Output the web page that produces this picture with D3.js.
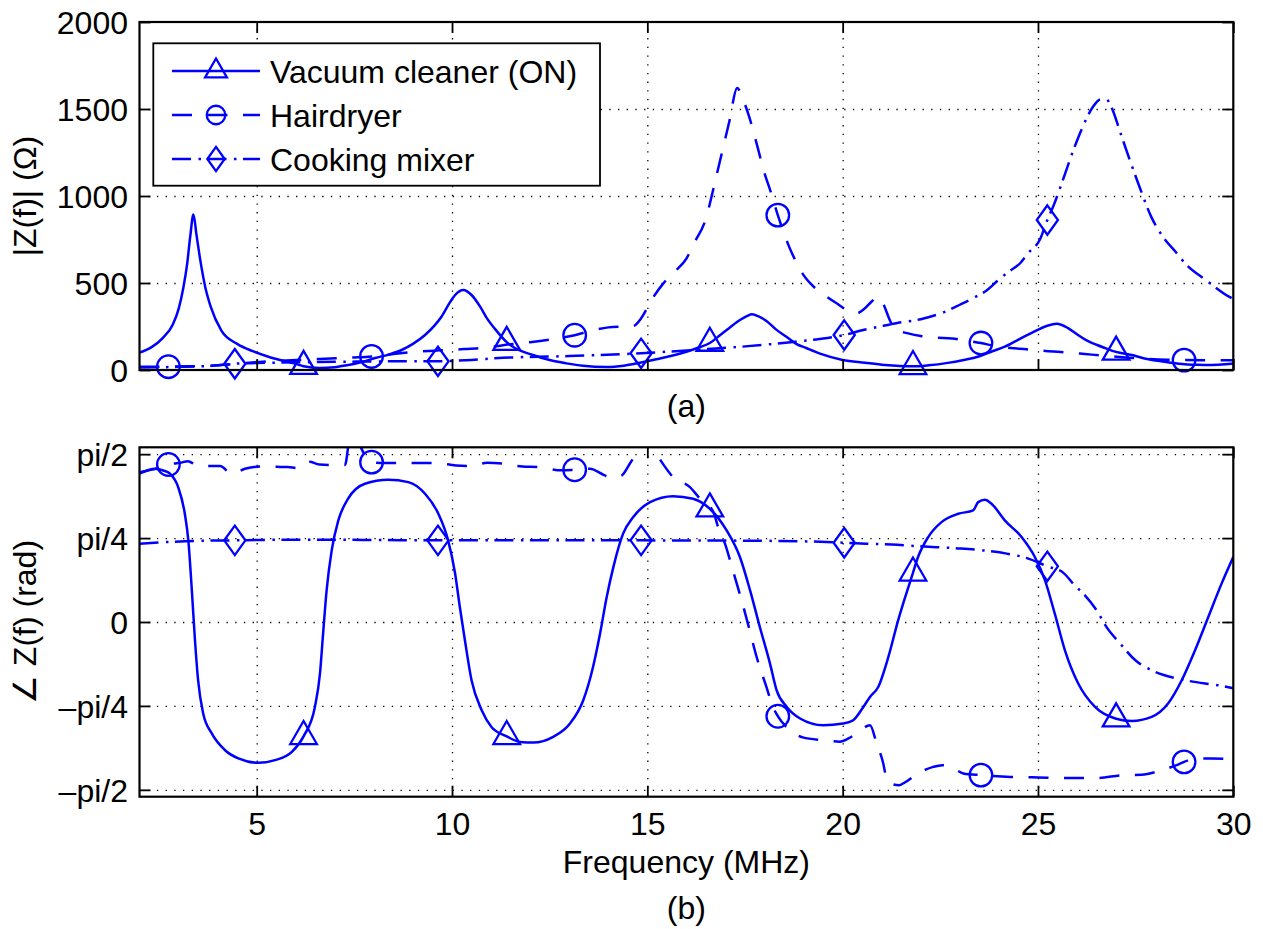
<!DOCTYPE html>
<html>
<head>
<meta charset="utf-8">
<script src="https://cdn.jsdelivr.net/npm/d3@7"></script>
<style>
  body { margin: 0; background: #fff; }
  text { font-family: "Liberation Sans", Arial, Helvetica, sans-serif; font-size: 32px; fill: #000; }
</style>
</head>
<body>
<svg id="chart" width="1263" height="929"></svg>
<script>
// ---- Impedance magnitude |Z(f)| in ohms, [frequency MHz, value] ----
const vacuumMag = [
  [2.0,100],[2.3,130],[2.6,185],[2.85,260],[3.0,350],[3.12,470],[3.22,610],[3.30,770],[3.38,893],
  [3.46,775],[3.55,640],[3.68,480],[3.82,365],[4.1,225],[4.5,150],[4.9,108],[5.3,76],[5.7,52],
  [6.0,35],[6.2,22],[6.6,12],[7.0,16],[7.34,29],[7.7,46],[8.03,69],[8.4,90],[8.71,115],[9.0,150],
  [9.31,201],[9.55,255],[9.73,306],[9.95,390],[10.08,431],[10.29,460],[10.5,431],[10.72,364],
  [10.9,295],[11.14,225],[11.4,160],[11.6,128],[12.07,86],[12.5,57],[12.93,38],[13.35,24],
  [13.96,17],[14.4,25],[14.81,42],[15.2,60],[15.6,80],[16.0,105],[16.3,128],[16.6,155],
  [16.86,200],[17.1,242],[17.37,287],[17.55,310],[17.68,320],[17.85,308],[18.05,282],[18.3,232],
  [18.56,191],[18.8,152],[19.08,125],[19.42,94],[20.0,58],[20.57,42],[21.08,29],[21.8,21],
  [22.2,27],[22.69,41],[23.1,58],[23.46,76],[23.8,105],[24.15,134],[24.5,175],[24.84,213],
  [25.22,253],[25.48,266],[25.77,241],[26.0,205],[26.21,175],[26.5,145],[26.72,126],[27.0,104],
  [27.4,86],[27.7,68],[28.07,53],[28.4,42],[28.76,33],[29.1,30],[29.44,29],[29.8,33],[30.0,38]
];
const hairdryerMag = [
  [2.0,18],[2.74,19],[3.3,21],[3.9,26],[4.3,32],[4.8,42],[5.5,52],[6.2,60],[6.9,66],[7.5,72],
  [7.94,78],[8.5,92],[9.1,105],[9.7,113],[10.3,120],[10.9,130],[11.5,148],[12.0,160],[12.5,175],
  [13.14,200],[13.6,228],[14.0,245],[14.35,250],[14.63,252],[14.85,300],[15.1,400],[15.4,495],
  [15.7,565],[16.0,640],[16.2,730],[16.5,870],[16.7,1050],[16.9,1240],[17.1,1430],[17.3,1620],
  [17.45,1555],[17.6,1460],[17.8,1300],[18.0,1130],[18.15,1030],[18.34,890],[18.6,725],
  [18.8,625],[19.0,545],[19.3,470],[19.6,420],[19.9,375],[20.15,338],[20.36,326],[20.55,350],
  [20.75,395],[20.9,420],[21.05,375],[21.2,290],[21.35,232],[21.65,212],[22.0,195],[22.4,186],
  [22.8,181],[23.2,168],[23.54,155],[23.9,138],[24.3,127],[24.8,117],[25.2,109],[25.8,100],
  [26.2,92],[26.8,80],[27.3,71],[27.8,64],[28.3,59],[28.74,57],[29.3,56],[30.0,56]
];
const mixerMag = [
  [2.0,14],[3.0,18],[3.8,23],[4.44,36],[5.0,40],[6.0,44],[7.0,47],[8.0,49],[9.0,51],[9.64,50],
  [10.5,58],[11.3,70],[12.2,76],[13.0,80],[13.8,86],[14.84,96],[15.5,105],[16.5,120],[17.3,132],
  [18.0,145],[18.8,163],[19.4,178],[20.04,201],[20.5,228],[21.0,252],[21.4,270],[22.0,292],
  [22.6,333],[23.0,375],[23.4,420],[23.7,460],[23.95,510],[24.25,565],[24.55,615],[24.75,672],
  [25.05,750],[25.24,862],[25.4,945],[25.65,1100],[25.9,1260],[26.15,1400],[26.4,1510],
  [26.6,1555],[26.75,1555],[26.9,1500],[27.1,1370],[27.35,1207],[27.6,1052],[27.9,880],
  [28.2,765],[28.5,685],[28.8,605],[29.3,517],[29.9,420],[30.0,408]
];

// ---- Impedance phase angle in radians, [frequency MHz, value] ----
const vacuumPhase = [
  [2.0,1.388],[2.4,1.434],[2.61,1.418],[2.78,1.388],[2.99,1.262],[3.16,1.013],[3.25,0.764],
  [3.34,0.296],[3.42,-0.171],[3.50,-0.545],[3.63,-0.856],[3.85,-1.043],[4.19,-1.200],[4.53,-1.277],
  [5.04,-1.318],[5.47,-1.293],[5.90,-1.216],[6.2,-1.07],[6.49,-0.795],[6.62,-0.482],[6.70,-0.108],
  [6.79,0.296],[6.92,0.670],[7.09,0.951],[7.34,1.154],[7.77,1.294],[8.37,1.331],[8.88,1.309],
  [9.31,1.200],[9.65,1.013],[9.90,0.764],[10.08,0.452],[10.20,0.140],[10.33,-0.171],[10.50,-0.545],
  [10.76,-0.826],[11.01,-0.982],[11.4,-1.07],[11.74,-1.122],[12.08,-1.128],[12.59,-1.075],
  [13.02,-0.950],[13.36,-0.732],[13.61,-0.421],[13.79,-0.108],[13.96,0.234],[14.13,0.514],
  [14.38,0.827],[14.64,0.982],[15.07,1.122],[15.66,1.178],[16.17,1.154],[16.6,1.060],[17.03,0.857],
  [17.37,0.608],[17.63,0.296],[17.88,-0.047],[18.14,-0.389],[18.31,-0.639],[18.57,-0.795],
  [18.91,-0.903],[19.50,-0.966],[20.01,-0.950],[20.27,-0.919],[20.53,-0.795],[20.70,-0.701],
  [20.91,-0.608],[21.17,-0.327],[21.42,0.016],[21.8,0.46],[21.93,0.608],[22.19,0.795],[22.53,0.935],
  [22.96,1.013],[23.34,1.044],[23.47,1.122],[23.64,1.144],[23.81,1.107],[24.15,0.951],[24.58,0.795],
  [24.92,0.608],[25.18,0.390],[25.43,0.078],[25.69,-0.265],[26.03,-0.576],[26.46,-0.795],
  [27.0,-0.905],[27.40,-0.926],[27.91,-0.888],[28.33,-0.763],[28.68,-0.545],[29.02,-0.265],
  [29.36,0.047],[29.70,0.359],[30.0,0.608]
];
const hairdryerPhase = [
  [2.0,1.402],[2.22,1.418],[2.52,1.443],[2.74,1.474],[3.04,1.49],[3.24,1.505],[3.45,1.47],
  [3.73,1.46],[4.06,1.46],[4.36,1.388],[4.70,1.434],[5.1,1.456],[5.5,1.452],[5.8,1.45],[6.05,1.44],
  [6.35,1.50],[6.6,1.475],[6.92,1.47],[7.26,1.47],[7.40,1.75],[7.52,1.72],[7.85,1.52],[7.94,1.496],
  [8.3,1.487],[8.7,1.487],[9.2,1.487],[9.6,1.487],[10.1,1.465],[10.5,1.46],[10.9,1.49],[11.35,1.48],
  [11.8,1.455],[12.2,1.45],[12.8,1.42],[13.14,1.425],[13.53,1.434],[13.91,1.372],[14.1,1.35],
  [14.34,1.37],[14.55,1.481],[14.75,1.60],[14.95,1.72],[15.1,1.66],[15.37,1.496],[15.66,1.356],
  [16.09,1.262],[16.35,1.154],[16.69,1.03],[16.81,0.89],[17.0,0.72],[17.2,0.47],[17.4,0.22],
  [17.6,-0.05],[17.8,-0.33],[18.05,-0.61],[18.2,-0.78],[18.34,-0.882],[18.65,-1.01],[18.98,-1.08],
  [19.5,-1.106],[19.93,-1.12],[20.15,-1.09],[20.4,-1.03],[20.7,-0.966],[20.87,-1.137],[21.04,-1.324],
  [21.12,-1.46],[21.3,-1.52],[21.45,-1.527],[21.6,-1.50],[21.93,-1.417],[22.32,-1.356],[22.55,-1.34],
  [22.79,-1.36],[23.09,-1.417],[23.54,-1.433],[24.3,-1.45],[25.0,-1.455],[25.8,-1.46],[26.5,-1.46],
  [27.2,-1.433],[27.65,-1.43],[28.16,-1.387],[28.55,-1.34],[28.74,-1.309],[29.1,-1.277],
  [29.45,-1.277],[30.0,-1.287]
];
const mixerPhase = [
  [2.0,0.733],[2.7,0.748],[3.5,0.760],[4.44,0.764],[6.0,0.770],[8.0,0.768],[9.64,0.764],
  [12.0,0.766],[14.84,0.764],[17.0,0.762],[19.0,0.755],[20.04,0.742],[20.6,0.733],[21.4,0.722],
  [21.98,0.708],[22.9,0.690],[23.6,0.670],[24.2,0.640],[24.7,0.600],[25.24,0.521],[25.65,0.46],
  [25.94,0.343],[26.15,0.27],[26.5,0.11],[26.76,-0.05],[27.1,-0.2],[27.5,-0.36],[27.9,-0.45],
  [28.24,-0.498],[28.7,-0.54],[29.28,-0.576],[29.61,-0.592],[30.0,-0.62]
];

// Frequencies at which each series carries a marker symbol
const vacuumMarkerFreqs = [6.2, 11.4, 16.6, 21.8, 27.0];
const hairdryerMarkerFreqs = [2.74, 7.94, 13.14, 18.34, 23.54, 28.74];
const mixerMarkerFreqs = [4.44, 9.64, 14.84, 20.04, 25.24];

// Axis ticks and labels
const freqTicks = [5, 10, 15, 20, 25, 30];
const freqGrid = [5, 10, 15, 20, 25];
const magTicks = [0, 500, 1000, 1500, 2000];
const magGrid = [500, 1000, 1500];
const phaseTicks = [-Math.PI / 2, -Math.PI / 4, 0, Math.PI / 4, Math.PI / 2];
const phaseTickLabels = ["\u2013pi/2", "\u2013pi/4", "0", "pi/4", "pi/2"];
const seriesNames = ["Vacuum cleaner (ON)", "Hairdryer", "Cooking mixer"];

// ---- drawing ----
const svg = d3.select("#chart");
const FONT = '"Liberation Sans", Arial, Helvetica, sans-serif';
const BLUE = "#0000ff";
const DASH = "20,15.5";
const DASHDOT = "19,7.5,2.5,6.5";
const LW = 2.5;
const MW = 2.3;
const TICK = 11;

const x = d3.scaleLinear().domain([2, 30]).range([139.5, 1233.3]);

const markerPath = {
  triangle: s => `M0,${-15.3 * s}L${13.3 * s},${7.7 * s}L${-13.3 * s},${7.7 * s}Z`,
  circle: s => { const r = 11.3 * s; return `M${r},0A${r},${r} 0 1,1 ${-r},0A${r},${r} 0 1,1 ${r},0Z`; },
  diamond: s => `M0,${-14.7 * s}L${10.6 * s},0L0,${14.7 * s}L${-10.6 * s},0Z`
};

const styles = [
  { dash: null, marker: "triangle", freqs: vacuumMarkerFreqs },
  { dash: DASH, marker: "circle", freqs: hairdryerMarkerFreqs },
  { dash: DASHDOT, marker: "diamond", freqs: mixerMarkerFreqs }
];

const panels = [
  {
    id: "clipMag",
    y: d3.scaleLinear().domain([0, 2000]).range([370, 22]),
    ticks: magTicks, grid: magGrid, fmt: d => String(d), xLabels: false,
    data: [vacuumMag, hairdryerMag, mixerMag]
  },
  {
    id: "clipPhase",
    y: d3.scaleLinear().domain([-1.635, 1.635]).range([796.7, 447.3]),
    ticks: phaseTicks, grid: phaseTicks, fmt: (d, i) => phaseTickLabels[i], xLabels: true,
    data: [vacuumPhase, hairdryerPhase, mixerPhase]
  }
];

function styleAxis(sel) {
  sel.attr("font-size", 32).attr("font-family", FONT).attr("color", "#000");
  sel.select(".domain").remove();
  sel.selectAll(".tick line").attr("stroke", "#000").attr("stroke-width", 1.8);
}

panels.forEach(p => {
  const [x0, x1] = x.range();
  const [yb, yt] = p.y.range();
  const w = x1 - x0, h = yb - yt;
  const g = svg.append("g");

  svg.append("clipPath").attr("id", p.id)
    .append("rect").attr("x", x0).attr("y", yt).attr("width", w).attr("height", h);

  // dotted grid
  const gx = g.append("g").attr("transform", `translate(0,${yb})`)
    .call(d3.axisBottom(x).tickValues(freqGrid).tickSize(-h).tickFormat(""));
  const gy = g.append("g").attr("transform", `translate(${x0},0)`)
    .call(d3.axisLeft(p.y).tickValues(p.grid).tickSize(-w).tickFormat(""));
  [gx, gy].forEach(s => {
    s.select(".domain").remove();
    s.selectAll(".tick line").attr("stroke", "#000").attr("stroke-width", 1.3)
      .attr("stroke-dasharray", "1.3,7.4");
  });

  // curves
  const line = d3.line().x(d => x(d[0])).y(d => p.y(d[1])).curve(d3.curveMonotoneX);
  const lines = g.append("g").attr("clip-path", `url(#${p.id})`);
  p.data.forEach((series, i) => {
    lines.append("path").datum(series).attr("d", line)
      .attr("fill", "none").attr("stroke", BLUE).attr("stroke-width", LW)
      .attr("stroke-linejoin", "round")
      .attr("stroke-dasharray", styles[i].dash);
  });

  // markers
  p.data.forEach((series, i) => {
    const st = styles[i];
    const pts = st.freqs.map(f => d3.least(series, d => Math.abs(d[0] - f)));
    g.append("g").selectAll("path").data(pts).join("path")
      .attr("transform", d => `translate(${x(d[0])},${p.y(d[1])})`)
      .attr("d", markerPath[st.marker](1))
      .attr("fill", "none").attr("stroke", BLUE).attr("stroke-width", MW);
  });

  // ticks on all four sides, labels left and (lower panel) bottom
  g.append("g").attr("transform", `translate(0,${yb})`)
    .call(d3.axisBottom(x).tickValues(freqTicks).tickSize(-TICK).tickPadding(15.6)
      .tickFormat(p.xLabels ? d3.format("d") : ""))
    .call(styleAxis);
  g.append("g").attr("transform", `translate(0,${yt})`)
    .call(d3.axisTop(x).tickValues(freqTicks).tickSize(-TICK).tickFormat(""))
    .call(styleAxis);
  g.append("g").attr("transform", `translate(${x0},0)`)
    .call(d3.axisLeft(p.y).tickValues(p.ticks).tickSize(-TICK).tickPadding(11.5).tickFormat(p.fmt))
    .call(styleAxis)
    .call(s => s.selectAll("text").attr("dy", "0.36em"));
  g.append("g").attr("transform", `translate(${x1},0)`)
    .call(d3.axisRight(p.y).tickValues(p.ticks).tickSize(-TICK).tickFormat(""))
    .call(styleAxis);

  g.append("rect").attr("x", x0).attr("y", yt).attr("width", w).attr("height", h)
    .attr("fill", "none").attr("stroke", "#000").attr("stroke-width", 2.2);
});

// axis titles and panel captions
const xMid = (x.range()[0] + x.range()[1]) / 2;
svg.append("text").attr("transform", "translate(36,196) rotate(-90)")
  .attr("text-anchor", "middle").text("|Z(f)| (\u03A9)");
svg.append("text").attr("transform", "translate(36,622) rotate(-90)")
  .attr("text-anchor", "middle").text("\u2220 Z(f) (rad)");
svg.append("text").attr("x", xMid).attr("y", 417).attr("text-anchor", "middle").text("(a)");
svg.append("text").attr("x", xMid).attr("y", 873).attr("text-anchor", "middle").text("Frequency (MHz)");
svg.append("text").attr("x", xMid).attr("y", 919).attr("text-anchor", "middle").text("(b)");

// legend
const leg = svg.append("g");
leg.append("rect").attr("x", 153.3).attr("y", 43.3).attr("width", 446.7).attr("height", 142.4)
  .attr("fill", "#fff").attr("stroke", "#000").attr("stroke-width", 1.8);
const rowY = [71, 115, 159];
seriesNames.forEach((name, i) => {
  const st = styles[i];
  leg.append("line").attr("x1", 172).attr("x2", 260).attr("y1", rowY[i]).attr("y2", rowY[i])
    .attr("stroke", BLUE).attr("stroke-width", LW).attr("stroke-dasharray", st.dash);
  leg.append("path").attr("transform", `translate(216,${rowY[i]})`)
    .attr("d", markerPath[st.marker](0.82))
    .attr("fill", "none").attr("stroke", BLUE).attr("stroke-width", MW);
  leg.append("text").attr("x", 270).attr("y", rowY[i] + 11.5).text(name);
});
</script>
</body>
</html>
